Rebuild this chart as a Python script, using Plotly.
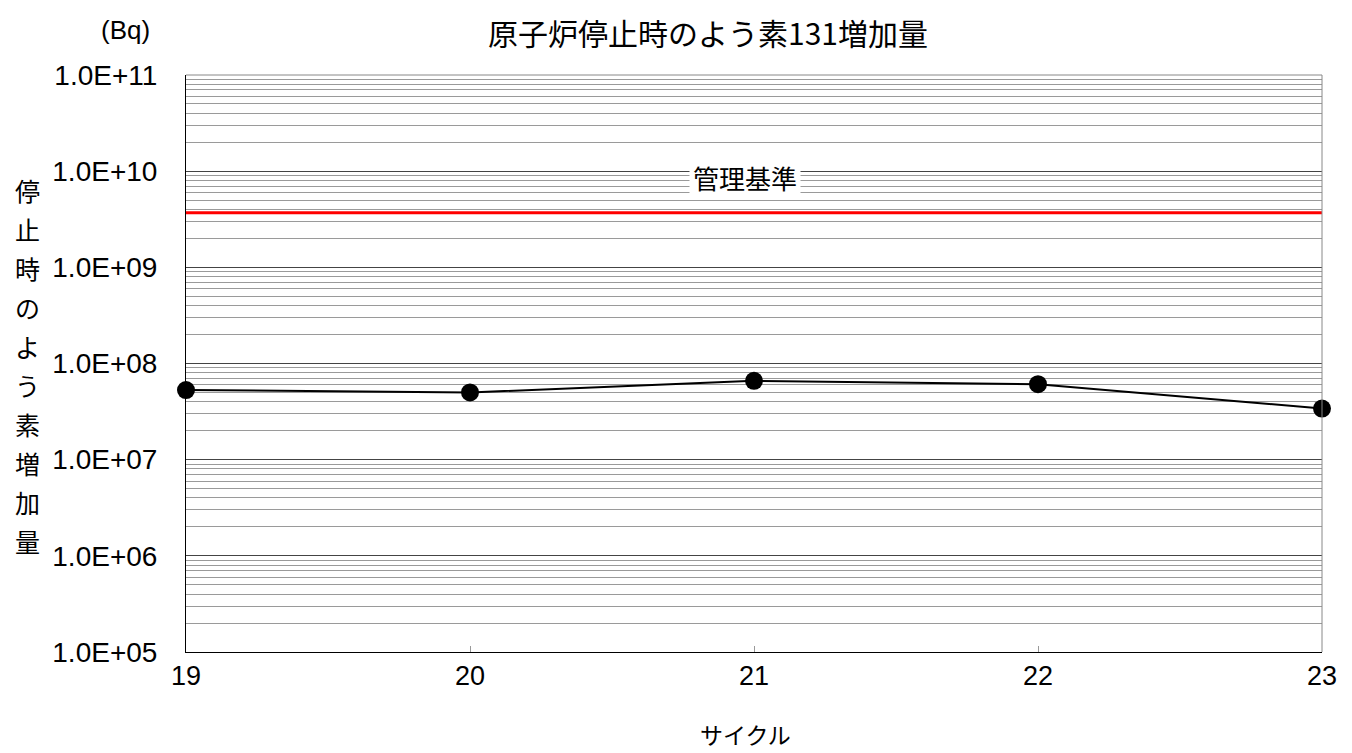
import plotly.graph_objects as go

cycles = [19, 20, 21, 22, 23]
iodine_increase = [5.3e7, 5.0e7, 6.6e7, 6.1e7, 3.4e7]
control_limit = 3.7e9

y_tickvals = [1e5, 1e6, 1e7, 1e8, 1e9, 1e10, 1e11]
y_ticktext = ["1.0E+05", "1.0E+06", "1.0E+07", "1.0E+08", "1.0E+09", "1.0E+10", "1.0E+11"]
x_tickvals = [19, 20, 21, 22, 23]
y_title = "停止時のよう素増加量"

font_jp = "Noto Sans CJK JP"
font_num = "Liberation Sans"

W, H = 1352, 753
L, R, T, B = 186, 30, 75, 101
pw, ph = W - L - R, H - T - B


def px(x, y):
    # pixel position on the page -> paper coords
    return (x - L) / pw, 1 - (y - T) / ph


fig = go.Figure()
# 管理基準
fig.add_trace(go.Scatter(x=[cycles[0], cycles[-1]], y=[control_limit, control_limit],
                         mode="lines", line=dict(color="#ff0000", width=3),
                         hoverinfo="skip", showlegend=False))
# 増加量
fig.add_trace(go.Scatter(x=cycles, y=iodine_increase, mode="lines+markers",
                         line=dict(color="black", width=2),
                         marker=dict(color="black", size=18),
                         cliponaxis=False, showlegend=False))

fig.add_annotation(x=20.97, y=9.93, xref="x", yref="y", text="管理基準", showarrow=False,
                   font=dict(family=font_jp, size=26, color="black"),
                   bgcolor="white", borderpad=3)

labels = [
    ("原子炉停止時のよう素131増加量", 708, 32, 30, font_jp),
    ("(Bq)", 125, 30, 26, font_num),
    ("サイクル", 745, 734, 23, font_jp),
]
# 縦書きの軸タイトル: 1文字ずつ
for i, ch in enumerate(y_title):
    labels.append((ch, 27, 190 + i * 39, 25, font_jp))

for text, x, y, size, fam in labels:
    ax, ay = px(x, y)
    fig.add_annotation(x=ax, y=ay, xref="paper", yref="paper", text=text, showarrow=False,
                       xanchor="center", yanchor="middle",
                       font=dict(family=fam, size=size, color="black"))

fig.update_layout(
    width=W, height=H,
    margin=dict(l=L, r=R, t=T, b=B),
    plot_bgcolor="white", paper_bgcolor="white",
    font=dict(family=font_jp, size=20, color="black"),
    showlegend=False,
)
fig.update_xaxes(range=[19, 23], tickvals=x_tickvals, showgrid=False,
                 showline=True, linecolor="black", linewidth=1,
                 ticks="inside", ticklen=6, tickcolor="#999999",
                 tickfont=dict(size=27, family=font_num), zeroline=False)
fig.update_yaxes(type="log", range=[5, 11], tickvals=y_tickvals, ticktext=y_ticktext,
                 showgrid=True, gridcolor="#444444", gridwidth=1,
                 minor=dict(dtick="D1", showgrid=True, gridcolor="#9a9a9a", gridwidth=1),
                 showline=True, linecolor="black", linewidth=1,
                 ticks="", ticklabelstandoff=22,
                 tickfont=dict(size=28, family=font_num), zeroline=False)
fig.add_shape(type="line", xref="paper", yref="paper", x0=1, x1=1, y0=0, y1=1,
              line=dict(color="#888888", width=1))
fig.add_shape(type="line", xref="paper", yref="paper", x0=0, x1=1, y0=1, y1=1,
              line=dict(color="#888888", width=1))

fig.write_html("out.html", config={"displayModeBar": False},
               post_script="document.body.style.margin='0';")
